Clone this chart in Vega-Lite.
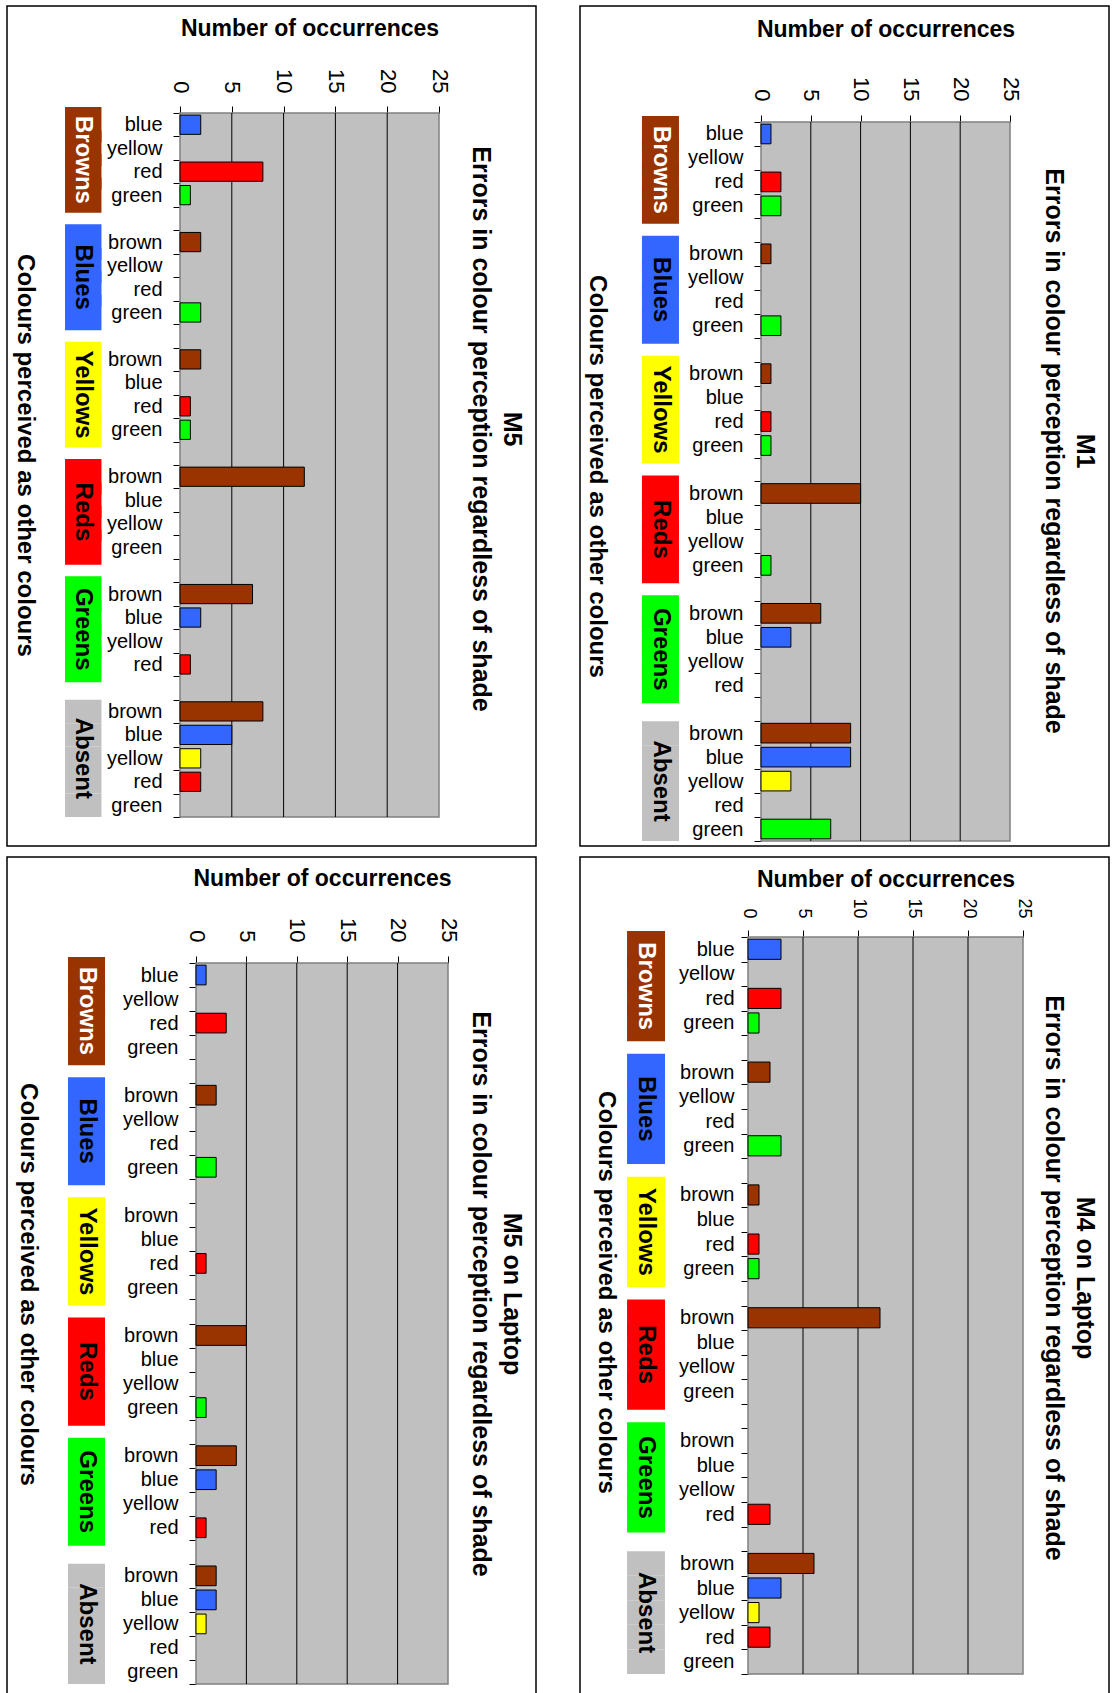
{
"$schema": "https://vega.github.io/schema/vega-lite/v6.json",
"padding": {"left": 6, "top": -5, "right": 0, "bottom": 0},
"autosize": {"type": "pad"},
"background": "white",
"columns": 2,
"spacing": {"row": 11, "column": 44},
"bounds": "flush",
"config": {
 "view": {"stroke": "black", "strokeWidth": 1.5, "fill": "white"},
 "font": "Liberation Sans",
 "axis": {"labelFont": "Liberation Sans", "titleFont": "Liberation Sans", "labelColor": "black", "titleColor": "black", "domainColor": "black", "tickColor": "black", "zindex": 1},
 "text": {"font": "Liberation Sans"},
 "title": {"font": "Liberation Sans"}
},
"datasets": {"counts": [
{"panel":"M5","group":"Browns","colour":"blue","row":"Browns:blue","n":2},
{"panel":"M5","group":"Browns","colour":"yellow","row":"Browns:yellow","n":0},
{"panel":"M5","group":"Browns","colour":"red","row":"Browns:red","n":8},
{"panel":"M5","group":"Browns","colour":"green","row":"Browns:green","n":1},
{"panel":"M5","group":"Blues","colour":"brown","row":"Blues:brown","n":2},
{"panel":"M5","group":"Blues","colour":"yellow","row":"Blues:yellow","n":0},
{"panel":"M5","group":"Blues","colour":"red","row":"Blues:red","n":0},
{"panel":"M5","group":"Blues","colour":"green","row":"Blues:green","n":2},
{"panel":"M5","group":"Yellows","colour":"brown","row":"Yellows:brown","n":2},
{"panel":"M5","group":"Yellows","colour":"blue","row":"Yellows:blue","n":0},
{"panel":"M5","group":"Yellows","colour":"red","row":"Yellows:red","n":1},
{"panel":"M5","group":"Yellows","colour":"green","row":"Yellows:green","n":1},
{"panel":"M5","group":"Reds","colour":"brown","row":"Reds:brown","n":12},
{"panel":"M5","group":"Reds","colour":"blue","row":"Reds:blue","n":0},
{"panel":"M5","group":"Reds","colour":"yellow","row":"Reds:yellow","n":0},
{"panel":"M5","group":"Reds","colour":"green","row":"Reds:green","n":0},
{"panel":"M5","group":"Greens","colour":"brown","row":"Greens:brown","n":7},
{"panel":"M5","group":"Greens","colour":"blue","row":"Greens:blue","n":2},
{"panel":"M5","group":"Greens","colour":"yellow","row":"Greens:yellow","n":0},
{"panel":"M5","group":"Greens","colour":"red","row":"Greens:red","n":1},
{"panel":"M5","group":"Absent","colour":"brown","row":"Absent:brown","n":8},
{"panel":"M5","group":"Absent","colour":"blue","row":"Absent:blue","n":5},
{"panel":"M5","group":"Absent","colour":"yellow","row":"Absent:yellow","n":2},
{"panel":"M5","group":"Absent","colour":"red","row":"Absent:red","n":2},
{"panel":"M5","group":"Absent","colour":"green","row":"Absent:green","n":0},
{"panel":"M1","group":"Browns","colour":"blue","row":"Browns:blue","n":1},
{"panel":"M1","group":"Browns","colour":"yellow","row":"Browns:yellow","n":0},
{"panel":"M1","group":"Browns","colour":"red","row":"Browns:red","n":2},
{"panel":"M1","group":"Browns","colour":"green","row":"Browns:green","n":2},
{"panel":"M1","group":"Blues","colour":"brown","row":"Blues:brown","n":1},
{"panel":"M1","group":"Blues","colour":"yellow","row":"Blues:yellow","n":0},
{"panel":"M1","group":"Blues","colour":"red","row":"Blues:red","n":0},
{"panel":"M1","group":"Blues","colour":"green","row":"Blues:green","n":2},
{"panel":"M1","group":"Yellows","colour":"brown","row":"Yellows:brown","n":1},
{"panel":"M1","group":"Yellows","colour":"blue","row":"Yellows:blue","n":0},
{"panel":"M1","group":"Yellows","colour":"red","row":"Yellows:red","n":1},
{"panel":"M1","group":"Yellows","colour":"green","row":"Yellows:green","n":1},
{"panel":"M1","group":"Reds","colour":"brown","row":"Reds:brown","n":10},
{"panel":"M1","group":"Reds","colour":"blue","row":"Reds:blue","n":0},
{"panel":"M1","group":"Reds","colour":"yellow","row":"Reds:yellow","n":0},
{"panel":"M1","group":"Reds","colour":"green","row":"Reds:green","n":1},
{"panel":"M1","group":"Greens","colour":"brown","row":"Greens:brown","n":6},
{"panel":"M1","group":"Greens","colour":"blue","row":"Greens:blue","n":3},
{"panel":"M1","group":"Greens","colour":"yellow","row":"Greens:yellow","n":0},
{"panel":"M1","group":"Greens","colour":"red","row":"Greens:red","n":0},
{"panel":"M1","group":"Absent","colour":"brown","row":"Absent:brown","n":9},
{"panel":"M1","group":"Absent","colour":"blue","row":"Absent:blue","n":9},
{"panel":"M1","group":"Absent","colour":"yellow","row":"Absent:yellow","n":3},
{"panel":"M1","group":"Absent","colour":"red","row":"Absent:red","n":0},
{"panel":"M1","group":"Absent","colour":"green","row":"Absent:green","n":7},
{"panel":"M5L","group":"Browns","colour":"blue","row":"Browns:blue","n":1},
{"panel":"M5L","group":"Browns","colour":"yellow","row":"Browns:yellow","n":0},
{"panel":"M5L","group":"Browns","colour":"red","row":"Browns:red","n":3},
{"panel":"M5L","group":"Browns","colour":"green","row":"Browns:green","n":0},
{"panel":"M5L","group":"Blues","colour":"brown","row":"Blues:brown","n":2},
{"panel":"M5L","group":"Blues","colour":"yellow","row":"Blues:yellow","n":0},
{"panel":"M5L","group":"Blues","colour":"red","row":"Blues:red","n":0},
{"panel":"M5L","group":"Blues","colour":"green","row":"Blues:green","n":2},
{"panel":"M5L","group":"Yellows","colour":"brown","row":"Yellows:brown","n":0},
{"panel":"M5L","group":"Yellows","colour":"blue","row":"Yellows:blue","n":0},
{"panel":"M5L","group":"Yellows","colour":"red","row":"Yellows:red","n":1},
{"panel":"M5L","group":"Yellows","colour":"green","row":"Yellows:green","n":0},
{"panel":"M5L","group":"Reds","colour":"brown","row":"Reds:brown","n":5},
{"panel":"M5L","group":"Reds","colour":"blue","row":"Reds:blue","n":0},
{"panel":"M5L","group":"Reds","colour":"yellow","row":"Reds:yellow","n":0},
{"panel":"M5L","group":"Reds","colour":"green","row":"Reds:green","n":1},
{"panel":"M5L","group":"Greens","colour":"brown","row":"Greens:brown","n":4},
{"panel":"M5L","group":"Greens","colour":"blue","row":"Greens:blue","n":2},
{"panel":"M5L","group":"Greens","colour":"yellow","row":"Greens:yellow","n":0},
{"panel":"M5L","group":"Greens","colour":"red","row":"Greens:red","n":1},
{"panel":"M5L","group":"Absent","colour":"brown","row":"Absent:brown","n":2},
{"panel":"M5L","group":"Absent","colour":"blue","row":"Absent:blue","n":2},
{"panel":"M5L","group":"Absent","colour":"yellow","row":"Absent:yellow","n":1},
{"panel":"M5L","group":"Absent","colour":"red","row":"Absent:red","n":0},
{"panel":"M5L","group":"Absent","colour":"green","row":"Absent:green","n":0},
{"panel":"M4L","group":"Browns","colour":"blue","row":"Browns:blue","n":3},
{"panel":"M4L","group":"Browns","colour":"yellow","row":"Browns:yellow","n":0},
{"panel":"M4L","group":"Browns","colour":"red","row":"Browns:red","n":3},
{"panel":"M4L","group":"Browns","colour":"green","row":"Browns:green","n":1},
{"panel":"M4L","group":"Blues","colour":"brown","row":"Blues:brown","n":2},
{"panel":"M4L","group":"Blues","colour":"yellow","row":"Blues:yellow","n":0},
{"panel":"M4L","group":"Blues","colour":"red","row":"Blues:red","n":0},
{"panel":"M4L","group":"Blues","colour":"green","row":"Blues:green","n":3},
{"panel":"M4L","group":"Yellows","colour":"brown","row":"Yellows:brown","n":1},
{"panel":"M4L","group":"Yellows","colour":"blue","row":"Yellows:blue","n":0},
{"panel":"M4L","group":"Yellows","colour":"red","row":"Yellows:red","n":1},
{"panel":"M4L","group":"Yellows","colour":"green","row":"Yellows:green","n":1},
{"panel":"M4L","group":"Reds","colour":"brown","row":"Reds:brown","n":12},
{"panel":"M4L","group":"Reds","colour":"blue","row":"Reds:blue","n":0},
{"panel":"M4L","group":"Reds","colour":"yellow","row":"Reds:yellow","n":0},
{"panel":"M4L","group":"Reds","colour":"green","row":"Reds:green","n":0},
{"panel":"M4L","group":"Greens","colour":"brown","row":"Greens:brown","n":0},
{"panel":"M4L","group":"Greens","colour":"blue","row":"Greens:blue","n":0},
{"panel":"M4L","group":"Greens","colour":"yellow","row":"Greens:yellow","n":0},
{"panel":"M4L","group":"Greens","colour":"red","row":"Greens:red","n":2},
{"panel":"M4L","group":"Absent","colour":"brown","row":"Absent:brown","n":6},
{"panel":"M4L","group":"Absent","colour":"blue","row":"Absent:blue","n":3},
{"panel":"M4L","group":"Absent","colour":"yellow","row":"Absent:yellow","n":1},
{"panel":"M4L","group":"Absent","colour":"red","row":"Absent:red","n":2},
{"panel":"M4L","group":"Absent","colour":"green","row":"Absent:green","n":0}
]},
"concat": [
{
 "width": 529, "height": 840,
 "title": {"text": ["M5", "Errors in colour perception regardless of shade"], "orient": "right", "anchor": "middle", "frame": "group", "offset": -68, "dx": 3, "fontSize": 25, "fontWeight": "bold", "lineHeight": 31, "color": "black"},
 "data": {"name": "counts"},
 "transform": [{"filter": "datum.panel === 'M5'"}],
 "layer": [
  {"data": {"values": [{}]}, "mark": {"type": "rect", "fill": "#C0C0C0", "stroke": "#808080", "strokeWidth": 1.5},
   "encoding": {"x": {"datum": 0, "type": "quantitative"}, "x2": {"datum": 25}, "y": {"datum": "Browns:blue", "type": "nominal", "bandPosition": 0}, "y2": {"datum": "Absent:green", "bandPosition": 1}}},
  {"data": {"values": [{"g": 5}, {"g": 10}, {"g": 15}, {"g": 20}]}, "mark": {"type": "rule", "color": "black", "strokeWidth": 1},
   "encoding": {"x": {"field": "g", "type": "quantitative"}, "y": {"datum": "Browns:blue", "type": "nominal", "bandPosition": 0}, "y2": {"datum": "Absent:green", "bandPosition": 1}}},
  {"transform": [{"filter": "datum.n > 0"}], "mark": {"type": "bar", "height": {"band": 0.82}, "stroke": "black", "strokeWidth": 1},
   "encoding": {
    "x": {"field": "n", "type": "quantitative", "scale": {"domain": [0, 25], "range": [173, 432], "nice": false, "zero": true},
          "axis": {"orient": "top", "offset": -107, "values": [0, 5, 10, 15, 20, 25], "title": "Number of occurrences", "titleFontSize": 23, "titleFontWeight": "bold", "titlePadding": 28, "labelAngle": 90, "labelAlign": "right", "labelBaseline": "middle", "labelFontSize": 22, "labelPadding": 13, "tickSize": 7, "grid": false, "labelFlush": false, "labelOverlap": false}},
    "y": {"field": "row", "type": "nominal",
          "scale": {"domain": ["Browns:blue","Browns:yellow","Browns:red","Browns:green","Browns:","Blues:brown","Blues:yellow","Blues:red","Blues:green","Blues:","Yellows:brown","Yellows:blue","Yellows:red","Yellows:green","Yellows:","Reds:brown","Reds:blue","Reds:yellow","Reds:green","Reds:","Greens:brown","Greens:blue","Greens:yellow","Greens:red","Greens:","Absent:brown","Absent:blue","Absent:yellow","Absent:red","Absent:green"], "range": [107, 811], "paddingInner": 0, "paddingOuter": 0},
          "axis": {"orient": "left", "offset": -173, "tickBand": "extent", "labelExpr": "split(datum.value, ':')[1]", "title": "Colours perceived as other colours", "titleAngle": 90, "titleBaseline": "top", "titleY": 449, "titleFontSize": 24, "titleFontWeight": "bold", "titlePadding": 70, "labelFontSize": 20, "labelPadding": 11, "tickSize": 7, "labelAlign": "right", "labelBaseline": "middle", "labelOverlap": false, "grid": false}},
    "color": {"field": "colour", "type": "nominal", "scale": {"domain": ["brown","blue","yellow","red","green"], "range": ["#993300","#3366FF","#FFFF00","#FF0000","#00FF00"]}, "legend": null}
   }},
  {"transform": [{"filter": "datum.group !== 'Absent'"}], "mark": {"type": "bar", "strokeWidth": 12},
   "encoding": {"x": {"datum": -10.52, "type": "quantitative"}, "x2": {"datum": -8.16}, "y": {"field": "row", "type": "nominal"},
    "fill": {"field": "group", "type": "nominal", "scale": {"domain": ["Browns","Blues","Yellows","Reds","Greens","Absent"], "range": ["#993300","#3366FF","#FFFF00","#FF0000","#00FF00","#C0C0C0"]}, "legend": null},
    "stroke": {"field": "group", "type": "nominal", "scale": {"domain": ["Browns","Blues","Yellows","Reds","Greens","Absent"], "range": ["#993300","#3366FF","#FFFF00","#FF0000","#00FF00","#C0C0C0"]}, "legend": null}}},
  {"transform": [{"filter": "datum.group === 'Absent'"}], "mark": {"type": "bar", "fill": "#C0C0C0"},
   "encoding": {"x": {"datum": -11.10, "type": "quantitative"}, "x2": {"datum": -7.58}, "y": {"field": "row", "type": "nominal"}}},
  {"transform": [{"filter": "indexof(['Browns:yellow','Blues:yellow','Yellows:blue','Reds:blue','Greens:blue'], datum.row) >= 0"}],
   "mark": {"type": "text", "angle": 90, "fontSize": 24, "fontWeight": "bold", "align": "center", "baseline": "middle"},
   "encoding": {"x": {"datum": -9.34, "type": "quantitative"}, "y": {"field": "row", "type": "nominal", "bandPosition": 1}, "text": {"field": "group"},
    "color": {"condition": {"test": "datum.group === 'Browns'", "value": "white"}, "value": "black"}}},
  {"transform": [{"filter": "datum.row === 'Absent:yellow'"}],
   "mark": {"type": "text", "angle": 90, "fontSize": 24, "fontWeight": "bold", "align": "center", "baseline": "middle", "color": "black"},
   "encoding": {"x": {"datum": -9.34, "type": "quantitative"}, "y": {"field": "row", "type": "nominal", "bandPosition": 0.5}, "text": {"field": "group"}}}
 ]
},
{
 "width": 529, "height": 840,
 "title": {"text": ["M1", "Errors in colour perception regardless of shade"], "orient": "right", "anchor": "middle", "frame": "group", "offset": -68, "dx": 25, "fontSize": 25, "fontWeight": "bold", "lineHeight": 31, "color": "black"},
 "data": {"name": "counts"},
 "transform": [{"filter": "datum.panel === 'M1'"}],
 "layer": [
  {"data": {"values": [{}]}, "mark": {"type": "rect", "fill": "#C0C0C0", "stroke": "#808080", "strokeWidth": 1.5},
   "encoding": {"x": {"datum": 0, "type": "quantitative"}, "x2": {"datum": 25}, "y": {"datum": "Browns:blue", "type": "nominal", "bandPosition": 0}, "y2": {"datum": "Absent:green", "bandPosition": 1}}},
  {"data": {"values": [{"g": 5}, {"g": 10}, {"g": 15}, {"g": 20}]}, "mark": {"type": "rule", "color": "black", "strokeWidth": 1},
   "encoding": {"x": {"field": "g", "type": "quantitative"}, "y": {"datum": "Browns:blue", "type": "nominal", "bandPosition": 0}, "y2": {"datum": "Absent:green", "bandPosition": 1}}},
  {"transform": [{"filter": "datum.n > 0"}], "mark": {"type": "bar", "height": {"band": 0.82}, "stroke": "black", "strokeWidth": 1},
   "encoding": {
    "x": {"field": "n", "type": "quantitative", "scale": {"domain": [0, 25], "range": [181, 430], "nice": false, "zero": true},
          "axis": {"orient": "top", "offset": -116, "values": [0, 5, 10, 15, 20, 25], "title": "Number of occurrences", "titleFontSize": 23, "titleFontWeight": "bold", "titlePadding": 35, "labelAngle": 90, "labelAlign": "right", "labelBaseline": "middle", "labelFontSize": 22, "labelPadding": 14, "tickSize": 7, "grid": false, "labelFlush": false, "labelOverlap": false}},
    "y": {"field": "row", "type": "nominal",
          "scale": {"domain": ["Browns:blue","Browns:yellow","Browns:red","Browns:green","Browns:","Blues:brown","Blues:yellow","Blues:red","Blues:green","Blues:","Yellows:brown","Yellows:blue","Yellows:red","Yellows:green","Yellows:","Reds:brown","Reds:blue","Reds:yellow","Reds:green","Reds:","Greens:brown","Greens:blue","Greens:yellow","Greens:red","Greens:","Absent:brown","Absent:blue","Absent:yellow","Absent:red","Absent:green"], "range": [116, 835], "paddingInner": 0, "paddingOuter": 0},
          "axis": {"orient": "left", "offset": -181, "tickBand": "extent", "labelExpr": "split(datum.value, ':')[1]", "title": "Colours perceived as other colours", "titleAngle": 90, "titleBaseline": "top", "titleY": 470, "titleFontSize": 24, "titleFontWeight": "bold", "titlePadding": 79, "labelFontSize": 20, "labelPadding": 11, "tickSize": 7, "labelAlign": "right", "labelBaseline": "middle", "labelOverlap": false, "grid": false}},
    "color": {"field": "colour", "type": "nominal", "scale": {"domain": ["brown","blue","yellow","red","green"], "range": ["#993300","#3366FF","#FFFF00","#FF0000","#00FF00"]}, "legend": null}
   }},
  {"transform": [{"filter": "datum.group !== 'Absent'"}], "mark": {"type": "bar", "strokeWidth": 12},
   "encoding": {"x": {"datum": -11.35, "type": "quantitative"}, "x2": {"datum": -8.84}, "y": {"field": "row", "type": "nominal"},
    "fill": {"field": "group", "type": "nominal", "scale": {"domain": ["Browns","Blues","Yellows","Reds","Greens","Absent"], "range": ["#993300","#3366FF","#FFFF00","#FF0000","#00FF00","#C0C0C0"]}, "legend": null},
    "stroke": {"field": "group", "type": "nominal", "scale": {"domain": ["Browns","Blues","Yellows","Reds","Greens","Absent"], "range": ["#993300","#3366FF","#FFFF00","#FF0000","#00FF00","#C0C0C0"]}, "legend": null}}},
  {"transform": [{"filter": "datum.group === 'Absent'"}], "mark": {"type": "bar", "fill": "#C0C0C0"},
   "encoding": {"x": {"datum": -11.95, "type": "quantitative"}, "x2": {"datum": -8.23}, "y": {"field": "row", "type": "nominal"}}},
  {"transform": [{"filter": "indexof(['Browns:yellow','Blues:yellow','Yellows:blue','Reds:blue','Greens:blue'], datum.row) >= 0"}],
   "mark": {"type": "text", "angle": 90, "fontSize": 24, "fontWeight": "bold", "align": "center", "baseline": "middle"},
   "encoding": {"x": {"datum": -10.09, "type": "quantitative"}, "y": {"field": "row", "type": "nominal", "bandPosition": 1}, "text": {"field": "group"},
    "color": {"condition": {"test": "datum.group === 'Browns'", "value": "white"}, "value": "black"}}},
  {"transform": [{"filter": "datum.row === 'Absent:yellow'"}],
   "mark": {"type": "text", "angle": 90, "fontSize": 24, "fontWeight": "bold", "align": "center", "baseline": "middle", "color": "black"},
   "encoding": {"x": {"datum": -10.09, "type": "quantitative"}, "y": {"field": "row", "type": "nominal", "bandPosition": 0.5}, "text": {"field": "group"}}}
 ]
},
{
 "width": 529, "height": 872,
 "title": {"text": ["M5 on Laptop", "Errors in colour perception regardless of shade"], "orient": "right", "anchor": "middle", "frame": "group", "offset": -68, "dx": 1, "fontSize": 25, "fontWeight": "bold", "lineHeight": 31, "color": "black"},
 "data": {"name": "counts"},
 "transform": [{"filter": "datum.panel === 'M5L'"}],
 "layer": [
  {"data": {"values": [{}]}, "mark": {"type": "rect", "fill": "#C0C0C0", "stroke": "#808080", "strokeWidth": 1.5},
   "encoding": {"x": {"datum": 0, "type": "quantitative"}, "x2": {"datum": 25}, "y": {"datum": "Browns:blue", "type": "nominal", "bandPosition": 0}, "y2": {"datum": "Absent:green", "bandPosition": 1}}},
  {"data": {"values": [{"g": 5}, {"g": 10}, {"g": 15}, {"g": 20}]}, "mark": {"type": "rule", "color": "black", "strokeWidth": 1},
   "encoding": {"x": {"field": "g", "type": "quantitative"}, "y": {"datum": "Browns:blue", "type": "nominal", "bandPosition": 0}, "y2": {"datum": "Absent:green", "bandPosition": 1}}},
  {"transform": [{"filter": "datum.n > 0"}], "mark": {"type": "bar", "height": {"band": 0.82}, "stroke": "black", "strokeWidth": 1},
   "encoding": {
    "x": {"field": "n", "type": "quantitative", "scale": {"domain": [0, 25], "range": [189, 441], "nice": false, "zero": true},
          "axis": {"orient": "top", "offset": -106, "values": [0, 5, 10, 15, 20, 25], "title": "Number of occurrences", "titleFontSize": 23, "titleFontWeight": "bold", "titlePadding": 27, "labelAngle": 90, "labelAlign": "right", "labelBaseline": "middle", "labelFontSize": 22, "labelPadding": 14, "tickSize": 7, "grid": false, "labelFlush": false, "labelOverlap": false}},
    "y": {"field": "row", "type": "nominal",
          "scale": {"domain": ["Browns:blue","Browns:yellow","Browns:red","Browns:green","Browns:","Blues:brown","Blues:yellow","Blues:red","Blues:green","Blues:","Yellows:brown","Yellows:blue","Yellows:red","Yellows:green","Yellows:","Reds:brown","Reds:blue","Reds:yellow","Reds:green","Reds:","Greens:brown","Greens:blue","Greens:yellow","Greens:red","Greens:","Absent:brown","Absent:blue","Absent:yellow","Absent:red","Absent:green"], "range": [106, 827], "paddingInner": 0, "paddingOuter": 0},
          "axis": {"orient": "left", "offset": -189, "tickBand": "extent", "labelExpr": "split(datum.value, ':')[1]", "title": "Colours perceived as other colours", "titleAngle": 90, "titleBaseline": "top", "titleY": 427, "titleFontSize": 24, "titleFontWeight": "bold", "titlePadding": 83, "labelFontSize": 20, "labelPadding": 11, "tickSize": 7, "labelAlign": "right", "labelBaseline": "middle", "labelOverlap": false, "grid": false}},
    "color": {"field": "colour", "type": "nominal", "scale": {"domain": ["brown","blue","yellow","red","green"], "range": ["#993300","#3366FF","#FFFF00","#FF0000","#00FF00"]}, "legend": null}
   }},
  {"transform": [{"filter": "datum.group !== 'Absent'"}], "mark": {"type": "bar", "strokeWidth": 12},
   "encoding": {"x": {"datum": -12.10, "type": "quantitative"}, "x2": {"datum": -9.62}, "y": {"field": "row", "type": "nominal"},
    "fill": {"field": "group", "type": "nominal", "scale": {"domain": ["Browns","Blues","Yellows","Reds","Greens","Absent"], "range": ["#993300","#3366FF","#FFFF00","#FF0000","#00FF00","#C0C0C0"]}, "legend": null},
    "stroke": {"field": "group", "type": "nominal", "scale": {"domain": ["Browns","Blues","Yellows","Reds","Greens","Absent"], "range": ["#993300","#3366FF","#FFFF00","#FF0000","#00FF00","#C0C0C0"]}, "legend": null}}},
  {"transform": [{"filter": "datum.group === 'Absent'"}], "mark": {"type": "bar", "fill": "#C0C0C0"},
   "encoding": {"x": {"datum": -12.70, "type": "quantitative"}, "x2": {"datum": -9.03}, "y": {"field": "row", "type": "nominal"}}},
  {"transform": [{"filter": "indexof(['Browns:yellow','Blues:yellow','Yellows:blue','Reds:blue','Greens:blue'], datum.row) >= 0"}],
   "mark": {"type": "text", "angle": 90, "fontSize": 24, "fontWeight": "bold", "align": "center", "baseline": "middle"},
   "encoding": {"x": {"datum": -10.86, "type": "quantitative"}, "y": {"field": "row", "type": "nominal", "bandPosition": 1}, "text": {"field": "group"},
    "color": {"condition": {"test": "datum.group === 'Browns'", "value": "white"}, "value": "black"}}},
  {"transform": [{"filter": "datum.row === 'Absent:yellow'"}],
   "mark": {"type": "text", "angle": 90, "fontSize": 24, "fontWeight": "bold", "align": "center", "baseline": "middle", "color": "black"},
   "encoding": {"x": {"datum": -10.86, "type": "quantitative"}, "y": {"field": "row", "type": "nominal", "bandPosition": 0.5}, "text": {"field": "group"}}}
 ]
},
{
 "width": 529, "height": 872,
 "title": {"text": ["M4 on Laptop", "Errors in colour perception regardless of shade"], "orient": "right", "anchor": "middle", "frame": "group", "offset": -68, "dx": -15, "fontSize": 25, "fontWeight": "bold", "lineHeight": 31, "color": "black"},
 "data": {"name": "counts"},
 "transform": [{"filter": "datum.panel === 'M4L'"}],
 "layer": [
  {"data": {"values": [{}]}, "mark": {"type": "rect", "fill": "#C0C0C0", "stroke": "#808080", "strokeWidth": 1.5},
   "encoding": {"x": {"datum": 0, "type": "quantitative"}, "x2": {"datum": 25}, "y": {"datum": "Browns:blue", "type": "nominal", "bandPosition": 0}, "y2": {"datum": "Absent:green", "bandPosition": 1}}},
  {"data": {"values": [{"g": 5}, {"g": 10}, {"g": 15}, {"g": 20}]}, "mark": {"type": "rule", "color": "black", "strokeWidth": 1},
   "encoding": {"x": {"field": "g", "type": "quantitative"}, "y": {"datum": "Browns:blue", "type": "nominal", "bandPosition": 0}, "y2": {"datum": "Absent:green", "bandPosition": 1}}},
  {"transform": [{"filter": "datum.n > 0"}], "mark": {"type": "bar", "height": {"band": 0.82}, "stroke": "black", "strokeWidth": 1},
   "encoding": {
    "x": {"field": "n", "type": "quantitative", "scale": {"domain": [0, 25], "range": [168, 443], "nice": false, "zero": true},
          "axis": {"orient": "top", "offset": -80, "values": [0, 5, 10, 15, 20, 25], "title": "Number of occurrences", "titleFontSize": 23, "titleFontWeight": "bold", "titlePadding": 6, "labelAngle": 90, "labelAlign": "right", "labelBaseline": "middle", "labelFontSize": 18, "labelPadding": 12, "tickSize": 7, "grid": false, "labelFlush": false, "labelOverlap": false}},
    "y": {"field": "row", "type": "nominal",
          "scale": {"domain": ["Browns:blue","Browns:yellow","Browns:red","Browns:green","Browns:","Blues:brown","Blues:yellow","Blues:red","Blues:green","Blues:","Yellows:brown","Yellows:blue","Yellows:red","Yellows:green","Yellows:","Reds:brown","Reds:blue","Reds:yellow","Reds:green","Reds:","Greens:brown","Greens:blue","Greens:yellow","Greens:red","Greens:","Absent:brown","Absent:blue","Absent:yellow","Absent:red","Absent:green"], "range": [80, 817], "paddingInner": 0, "paddingOuter": 0},
          "axis": {"orient": "left", "offset": -168, "tickBand": "extent", "labelExpr": "split(datum.value, ':')[1]", "title": "Colours perceived as other colours", "titleAngle": 90, "titleBaseline": "top", "titleY": 435, "titleFontSize": 24, "titleFontWeight": "bold", "titlePadding": 61, "labelFontSize": 20, "labelPadding": 7, "tickSize": 7, "labelAlign": "right", "labelBaseline": "middle", "labelOverlap": false, "grid": false}},
    "color": {"field": "colour", "type": "nominal", "scale": {"domain": ["brown","blue","yellow","red","green"], "range": ["#993300","#3366FF","#FFFF00","#FF0000","#00FF00"]}, "legend": null}
   }},
  {"transform": [{"filter": "datum.group !== 'Absent'"}], "mark": {"type": "bar", "strokeWidth": 12},
   "encoding": {"x": {"datum": -10.45, "type": "quantitative"}, "x2": {"datum": -8.09}, "y": {"field": "row", "type": "nominal"},
    "fill": {"field": "group", "type": "nominal", "scale": {"domain": ["Browns","Blues","Yellows","Reds","Greens","Absent"], "range": ["#993300","#3366FF","#FFFF00","#FF0000","#00FF00","#C0C0C0"]}, "legend": null},
    "stroke": {"field": "group", "type": "nominal", "scale": {"domain": ["Browns","Blues","Yellows","Reds","Greens","Absent"], "range": ["#993300","#3366FF","#FFFF00","#FF0000","#00FF00","#C0C0C0"]}, "legend": null}}},
  {"transform": [{"filter": "datum.group === 'Absent'"}], "mark": {"type": "bar", "fill": "#C0C0C0"},
   "encoding": {"x": {"datum": -11.0, "type": "quantitative"}, "x2": {"datum": -7.55}, "y": {"field": "row", "type": "nominal"}}},
  {"transform": [{"filter": "indexof(['Browns:yellow','Blues:yellow','Yellows:blue','Reds:blue','Greens:blue'], datum.row) >= 0"}],
   "mark": {"type": "text", "angle": 90, "fontSize": 24, "fontWeight": "bold", "align": "center", "baseline": "middle"},
   "encoding": {"x": {"datum": -9.27, "type": "quantitative"}, "y": {"field": "row", "type": "nominal", "bandPosition": 1}, "text": {"field": "group"},
    "color": {"condition": {"test": "datum.group === 'Browns'", "value": "white"}, "value": "black"}}},
  {"transform": [{"filter": "datum.row === 'Absent:yellow'"}],
   "mark": {"type": "text", "angle": 90, "fontSize": 24, "fontWeight": "bold", "align": "center", "baseline": "middle", "color": "black"},
   "encoding": {"x": {"datum": -9.27, "type": "quantitative"}, "y": {"field": "row", "type": "nominal", "bandPosition": 0.5}, "text": {"field": "group"}}}
 ]
}
]
}
